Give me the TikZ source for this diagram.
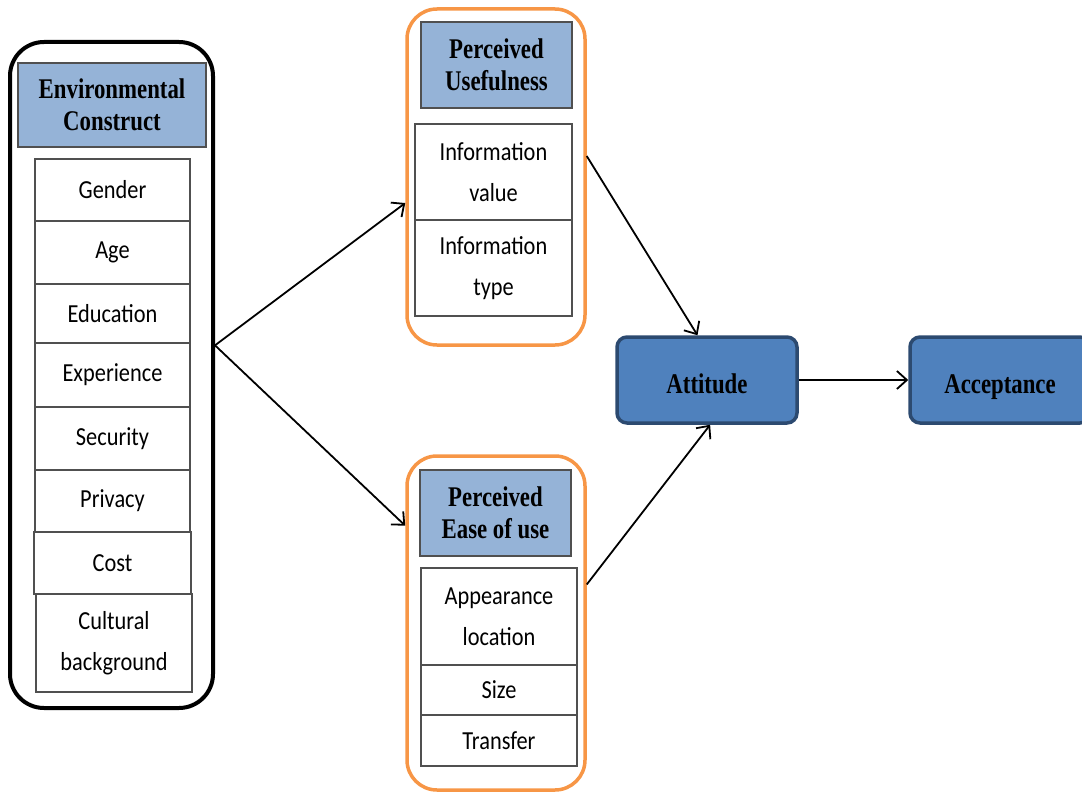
\documentclass[tikz,border=0pt]{standalone}
\usepackage{fontspec}
\usetikzlibrary{arrows.meta}
\newfontfamily\headfont[FakeStretch=0.8]{Liberation Serif}
\newfontfamily\itemfont[FakeStretch=0.86]{Carlito}
\definecolor{hdrblue}{HTML}{95B3D7}
\definecolor{boxblue}{HTML}{4F81BD}
\definecolor{boxedge}{HTML}{2C4A70}
\definecolor{frameorange}{HTML}{F79646}
\definecolor{itemgray}{HTML}{505050}

\tikzset{
  envframe/.style={draw=black, line width=4pt, rounded corners=34pt},
  orangeframe/.style={draw=frameorange, line width=3.5pt, rounded corners=30pt},
  hdr/.style={draw=itemgray, line width=1.5pt, fill=hdrblue, align=center,
    inner sep=0pt, font=\headfont\bfseries\fontsize{28.5}{32.5}\selectfont},
  item/.style={draw=itemgray, line width=1.2pt, fill=white, align=center,
    inner sep=0pt, font=\itemfont\fontsize{26}{40.5}\selectfont},
  stage/.style={draw=boxedge, line width=3.5pt, fill=boxblue, rounded corners=10pt,
    minimum width=180, minimum height=86, inner sep=0pt, text height=26pt, text depth=0pt,
    font=\headfont\bfseries\fontsize{28.5}{32.5}\selectfont},
  arr/.style={line width=1.8pt, -{Straight Barb[length=10pt,width=18pt]}}
}

\begin{document}
\begin{tikzpicture}[x=1pt,y=-1pt]
\useasboundingbox (0,0) rectangle (1082,792);
%environment
\node[envframe, minimum width=203, minimum height=666] (env) at (111.5,375) {};
\node[hdr, minimum width=188, minimum height=84] (envhead) at (112,105) {Environmental\\Construct};
\node[item, minimum width=155, minimum height=62] (gender) at (112.5,190) {Gender};
\node[item, minimum width=155, minimum height=63] (age) at (112.5,252.5) {Age};
\node[item, minimum width=155, minimum height=59] (edu) at (112.5,313.5) {Education};
\node[item, minimum width=155, minimum height=64] (exp) at (112.5,375) {Experience};
\node[item, minimum width=155, minimum height=63] (sec) at (112.5,438.5) {Security};
\node[item, minimum width=155, minimum height=62] (priv) at (112.5,501) {Privacy};
\node[item, minimum width=157, minimum height=62] (cost) at (112.5,563) {Cost};
\node[item, minimum width=156, minimum height=98] (cult) at (114,643) {Cultural\\background};
%usefulness
\node[orangeframe, minimum width=178, minimum height=336] (pu) at (496,177) {};
\node[hdr, minimum width=151, minimum height=86] (puhead) at (496.5,65) {Perceived\\Usefulness};
\node[item, minimum width=157, minimum height=96] (infoval) at (493.5,172) {Information\\value};
\node[item, minimum width=157, minimum height=96] (infotype) at (493.5,268) {Information\\type};
%ease of use
\node[orangeframe, minimum width=178, minimum height=334] (peu) at (496,623) {};
\node[hdr, minimum width=151, minimum height=86] (peuhead) at (495.5,513) {Perceived\\Ease of use};
\node[item, minimum width=156, minimum height=97] (appear) at (499,616.5) {Appearance\\location};
\node[item, minimum width=156, minimum height=50] (size) at (499,690) {Size};
\node[item, minimum width=156, minimum height=51] (transfer) at (499,740.5) {Transfer};
%stages
\node[stage] (att) at (707,380) {Attitude};
\node[stage] (acc) at (1000,380) {Acceptance};
%arrows
\draw[arr] (env.16) -- (pu.196);
\draw[arr] (env.16) -- (peu.133);
\draw[arr] (pu.13) -- (att.102);
\draw[arr] (peu.23) -- (att.-86);
\draw[arr] (att.east) -- (acc.west);
\end{tikzpicture}
\end{document}
